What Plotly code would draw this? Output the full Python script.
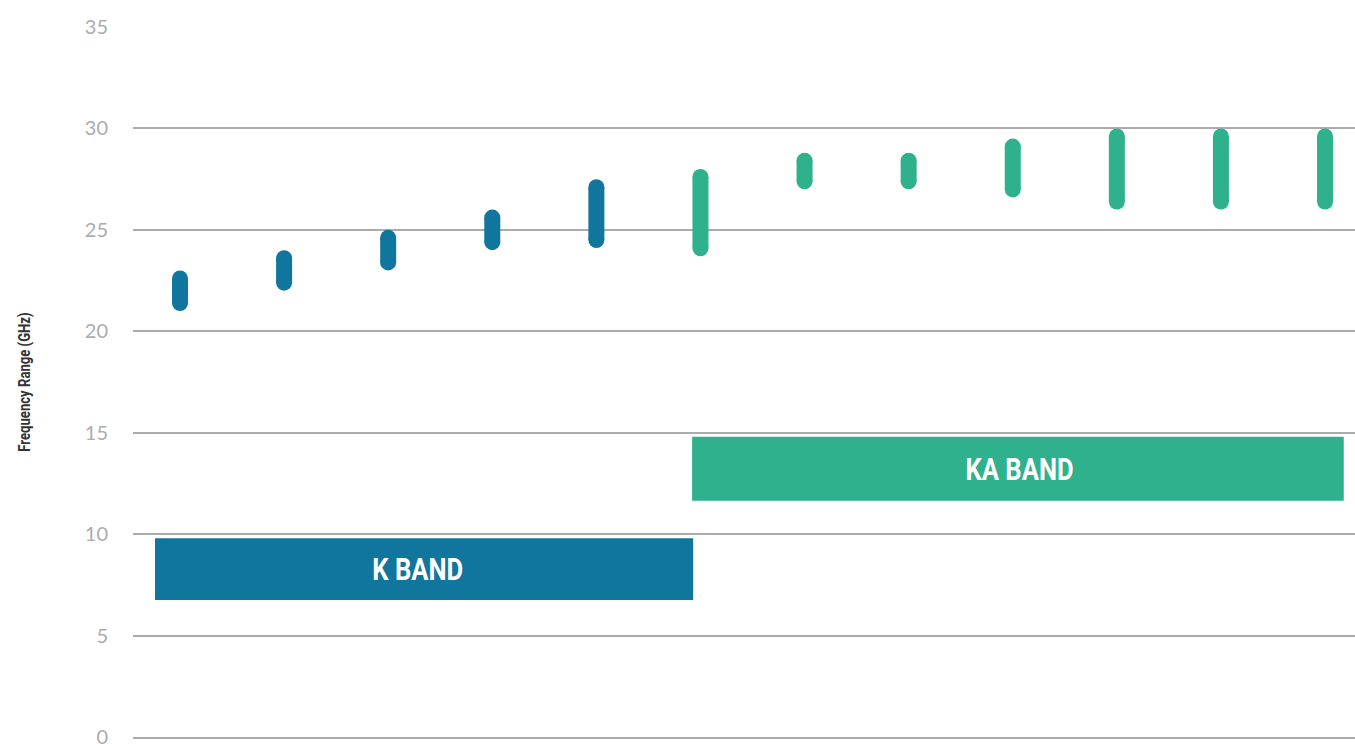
import plotly.graph_objects as go

# ---- data ----
categories = list(range(12))
band_of_category = ["K", "K", "K", "K", "K", "KA", "KA", "KA", "KA", "KA", "KA", "KA"]
freq_low = [21.0, 22.0, 23.0, 24.0, 24.1, 23.7, 27.0, 27.0, 26.6, 26.0, 26.0, 26.0]
freq_high = [23.0, 24.0, 25.0, 26.0, 27.5, 28.0, 28.8, 28.8, 29.5, 30.0, 30.0, 30.0]
y_ticks = [0, 5, 10, 15, 20, 25, 30, 35]

band_names = ["K BAND", "KA BAND"]
band_keys = ["K", "KA"]
band_x_start = [-0.24, 4.92]
band_x_end = [4.93, 11.18]
band_y_low = [6.75, 11.65]
band_y_high = [9.8, 14.8]

# ---- style ----
W, H = 1355, 744
M_L, M_R, M_T, M_B = 133, 0, 27, 7
Y_RANGE = [0, 35]
X_RANGE = [-0.4515, 11.288]
BAR_PX = 16
GRID = "#ababab"
colors = {"K": "#10769E", "KA": "#2EB18C"}
label_shift = {"K": -6, "KA": 2}
COND_FONT = "Roboto, Liberation Sans Narrow, sans-serif"

plot_h = H - M_T - M_B
cap = (BAR_PX / 2) * (Y_RANGE[1] - Y_RANGE[0]) / plot_h  # rounded-cap inset in data units

fig = go.Figure()

for key in band_keys:
    xs, ys = [], []
    for c, b, lo, hi in zip(categories, band_of_category, freq_low, freq_high):
        if b != key:
            continue
        xs += [c, c, None]
        ys += [lo + cap, hi - cap, None]
    fig.add_trace(go.Scatter(
        x=xs, y=ys, mode="lines+markers",
        line=dict(color=colors[key], width=BAR_PX),
        marker=dict(color=colors[key], size=BAR_PX, line=dict(width=0)),
        connectgaps=False, showlegend=False, hoverinfo="skip",
    ))

for name, key, x0, x1, y0, y1 in zip(band_names, band_keys, band_x_start, band_x_end, band_y_low, band_y_high):
    fig.add_shape(type="rect", xref="x", yref="y", x0=x0, x1=x1, y0=y0, y1=y1,
                  fillcolor=colors[key], line=dict(width=0), layer="above")
    fig.add_annotation(x=(x0 + x1) / 2, y=(y0 + y1) / 2, xref="x", yref="y",
                       text=name, showarrow=False, xshift=label_shift[key],
                       font=dict(family=COND_FONT, size=32, color="white", weight="bold"))

fig.add_annotation(xref="paper", yref="paper", x=(24 - M_L) / (W - M_L - M_R), y=0.5,
                   text="Frequency Range (GHz)", textangle=-90, showarrow=False,
                   xanchor="center", yanchor="middle",
                   font=dict(family=COND_FONT, size=16, color="#333333", weight="bold"))

fig.update_layout(
    width=W, height=H,
    margin=dict(l=M_L, r=M_R, t=M_T, b=M_B, autoexpand=False),
    paper_bgcolor="white", plot_bgcolor="white",
    xaxis=dict(range=X_RANGE, showgrid=False, zeroline=False, showticklabels=False,
               showline=True, linecolor=GRID, linewidth=1.5, ticks="", fixedrange=True),
    yaxis=dict(range=Y_RANGE, tickvals=y_ticks, showgrid=True, gridcolor=GRID,
               gridwidth=1.5, zeroline=False, showline=False,
               tickfont=dict(family="Lato, Open Sans, sans-serif", size=20, color="#acacac"),
               ticklabelstandoff=24, ticklabeloverflow="allow", fixedrange=True),
)

post = """
document.body.style.margin = '0px';
(function(){
  var gd = document.getElementById('{plot_id}');
  function squeeze(){
    document.querySelectorAll('.annotation-text').forEach(function(t){
      var f = t.textContent.indexOf('BAND') >= 0 ? 0.8 : 0.82;
      t.style.transformBox = 'fill-box';
      t.style.transformOrigin = 'center';
      t.style.transform = 'scaleX(' + f + ')';
    });
  }
  squeeze();
  if (gd && gd.on) { gd.on('plotly_afterplot', squeeze); }
})();
"""

fig.write_html("out.html", post_script=post, config={"displayModeBar": False})
